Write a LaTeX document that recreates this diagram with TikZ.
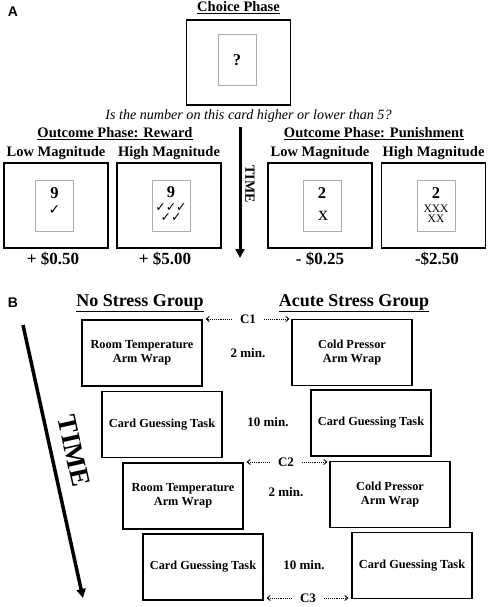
\documentclass[tikz,border=0pt]{standalone}
\usepackage{fontspec}
\setmainfont{Liberation Serif}
\newfontfamily\panelfont{Liberation Sans}
\newfontfamily\tickfont{DejaVu Sans}
\usetikzlibrary{arrows.meta}

\begin{document}
\begin{tikzpicture}[x=1pt, y=-1pt,
			% Define styles for nodes
			screen/.style={draw, line width=1.2pt, minimum width=104pt, minimum height=85pt, inner sep=0pt},
			card/.style={draw=gray!65, line width=1pt, minimum width=38pt, minimum height=51pt, inner sep=0pt},
			task/.style={draw, line width=1.1pt, minimum width=120pt, minimum height=66pt, align=center,
					inner sep=0pt, font=\fontsize{12.3}{14.5}\selectfont\bfseries},
			head/.style={inner sep=1pt, font=\fontsize{14.5}{17}\selectfont\bfseries},
			group/.style={inner sep=1pt, font=\fontsize{18}{21}\selectfont\bfseries},
			amount/.style={font=\fontsize{17}{20}\selectfont\bfseries},
			digit/.style={font=\fontsize{16.5}{19}\selectfont\bfseries},
			gap/.style={font=\fontsize{13}{15}\selectfont\bfseries},
			panel/.style={font=\fontsize{14}{16}\selectfont\panelfont\bfseries},
			swap/.style={draw, densely dotted, line width=0.9pt, -{Straight Barb[length=3pt, width=5pt]}},
			timeline/.style={draw, line width=3pt, -{Triangle[length=9pt, width=9pt]}}
		]
		\useasboundingbox (0,0) rectangle (490,607);

		% Panel A: choice phase
		\node[panel] (labA) at (13,12) {A};
		\node[head] (choice) at (238.5,8) {\underline{Choice Phase}};
		\node[screen] (cscreen) at (238.5,62.5) {};
		\node[card] (ccard) at (237,60.5) {};
		\node[digit] (qmark) at (237,60.5) {?};
		\node[font=\fontsize{14.1}{16}\selectfont\itshape] (question) at (248.5,116)
			{Is the number on this card higher or lower than 5?};

		% Panel A: outcome phase
		\node[head] (reward) at (115,134) {\underline{Outcome Phase: Reward}};
		\node[head] (punish) at (374,134) {\underline{Outcome Phase: Punishment}};
		\node[head] (lowR) at (56,153) {Low Magnitude};
		\node[head] (highR) at (169,153) {High Magnitude};
		\node[head] (lowP) at (320,153) {Low Magnitude};
		\node[head] (highP) at (433.5,153) {High Magnitude};

		\node[screen] (s1) at (56,205.5) {};
		\node[screen] (s2) at (169,205.5) {};
		\node[screen] (s3) at (320,205.5) {};
		\node[screen] (s4) at (433.5,205.5) {};
		\node[card] (k1) at (54.5,205.5) {};
		\node[card] (k2) at (171,205.5) {};
		\node[card] (k3) at (322,205.5) {};
		\node[card] (k4) at (436,205.5) {};

		% card faces
		\node[digit] (n1) at (54.5,193) {9};
		\node[inner sep=0pt, font=\fontsize{14}{14}\selectfont\tickfont] (t1) at (54.5,210.5) {✓};
		\node[digit] (n2) at (171,192) {9};
		\node[align=center, inner sep=0pt, font=\fontsize{12.5}{10.5}\selectfont\tickfont] (t2) at (171,212.5)
			{✓✓✓\\✓✓};
		\node[digit] (n3) at (322,193) {2};
		\node[inner sep=0pt, font=\fontsize{20}{20}\selectfont] (x3) at (323,216) {x};
		\node[digit] (n4) at (436,193) {2};
		\node[align=center, inner sep=0pt, font=\fontsize{11.5}{9.5}\selectfont] (x4) at (436,213.5) {XXX\\XX};

		\node[amount] (a1) at (53,259) {+ \$0.50};
		\node[amount] (a2) at (165,259) {+ \$5.00};
		\node[amount] (a3) at (320,259) {- \$0.25};
		\node[amount] (a4) at (437,259) {-\$2.50};

		% time arrow of panel A
		\coordinate (tA0) at (240,127);
		\coordinate (tA1) at (240,258);
		\draw[timeline] (tA0) -- (tA1);
		\node[rotate=-90, font=\fontsize{14}{16}\selectfont\bfseries] (timeA) at (250,184) {TIME};

		% Panel B
		\node[panel] (labB) at (13,303) {B};
		\node[group] (nostress) at (140,303) {\underline{No Stress Group}};
		\node[group] (acute) at (354,303) {\underline{Acute Stress Group}};

		\node[task] (l1) at (142,353) {Room Temperature\\Arm Wrap};
		\node[task] (r1) at (352,352.5) {Cold Pressor\\Arm Wrap};
		\node[task] (l2) at (162,424.5) {Card Guessing Task};
		\node[task] (r2) at (371,423) {Card Guessing Task};
		\node[task] (l3) at (183,496) {Room Temperature\\Arm Wrap};
		\node[task] (r3) at (390,494.5) {Cold Pressor\\Arm Wrap};
		\node[task] (l4) at (203,567) {Card Guessing Task};
		\node[task] (r4) at (412,565.5) {Card Guessing Task};

		\node[gap] (g1) at (248,353) {2 min.};
		\node[gap] (g2) at (268,422) {10 min.};
		\node[gap] (g3) at (286,492) {2 min.};
		\node[gap] (g4) at (304,565) {10 min.};

		% cortisol samples
		\node[gap, inner sep=1pt] (c1) at (248,319) {C1};
		\node[gap, inner sep=1pt] (c2) at (286,462) {C2};
		\node[gap, inner sep=1pt] (c3) at (308,598) {C3};
		\draw[swap, shorten <=7pt, shorten >=3pt] (c1.west) -- (c1.west -| l1.east);
		\draw[swap, shorten <=7pt, shorten >=2pt] (c1.east) -- (c1.east -| r1.west);
		\draw[swap, shorten <=7pt, shorten >=3pt] (c2.west) -- (c2.west -| l3.east);
		\draw[swap, shorten <=7pt, shorten >=2pt] (c2.east) -- (c2.east -| r3.west);
		\draw[swap, shorten <=7pt, shorten >=3pt] (c3.west) -- (c3.west -| l4.east);
		\draw[swap, shorten <=7pt, shorten >=3pt] (c3.east) -- (c3.east -| r4.west);

		% time arrow of panel B
		\coordinate (tB0) at (23,325);
		\coordinate (tB1) at (83,598);
		\draw[timeline, line width=3.5pt] (tB0) -- (tB1);
		\node[rotate=-77.6, font=\fontsize{27}{30}\selectfont\bfseries] (timeB) at (74,451) {TIME};
	\end{tikzpicture}
\end{document}
